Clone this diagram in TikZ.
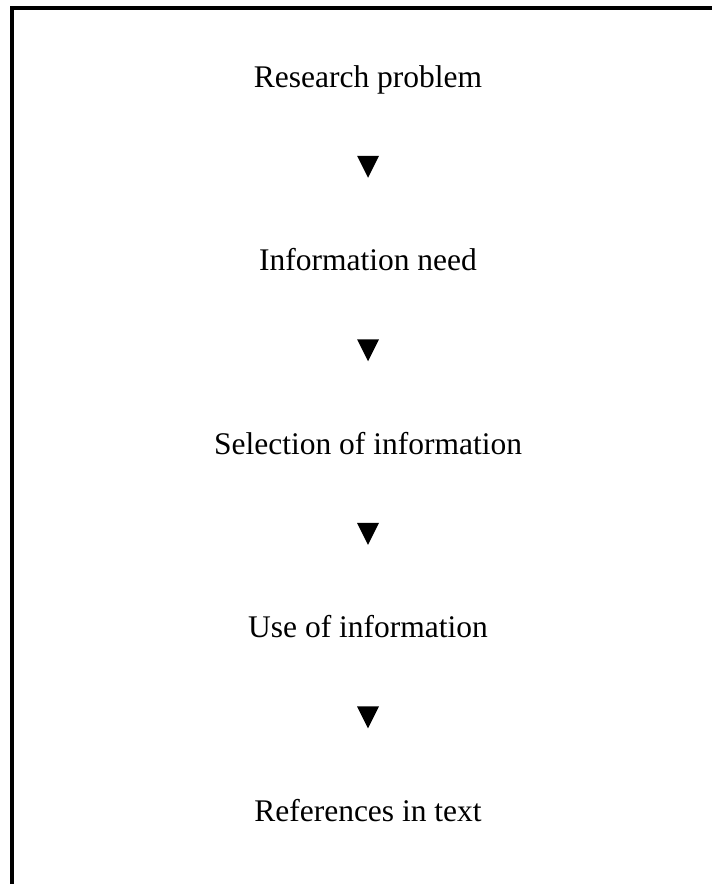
\documentclass[tikz,border=0pt]{standalone}
\usepackage{fontspec}
\setmainfont{Liberation Serif}
\begin{document}
\begin{tikzpicture}[x=1pt,y=1pt,
  steptext/.style={anchor=base, inner sep=0pt, font=\fontsize{31.5}{36}\selectfont},
  downmark/.style={fill=black, draw=none}]
\useasboundingbox (0,0) rectangle (712,-884);
% open frame: left and top edges only
\draw[line width=3.5pt, line join=miter] (11.75,-884) -- (11.75,-7.75) -- (712,-7.75);

\node[steptext] (s1) at (368,-87) {Research problem};
\node[steptext] (s2) at (368,-270.5) {Information need};
\node[steptext] (s3) at (368,-454) {Selection of information};
\node[steptext] (s4) at (368,-637.5) {Use of information};
\node[steptext] (s5) at (368,-821) {References in text};

% downward marks between the steps
\foreach \a/\b in {s1/s2,s2/s3,s3/s4,s4/s5}{
  \path (\a.base) -- (\b.base) coordinate[pos=0.5] (m\a);
  \fill[downmark] ([xshift=-11pt,yshift=23pt]m\a) -- ([xshift=11pt,yshift=23pt]m\a) -- ([yshift=1pt]m\a) -- cycle;
}
\end{tikzpicture}
\end{document}
